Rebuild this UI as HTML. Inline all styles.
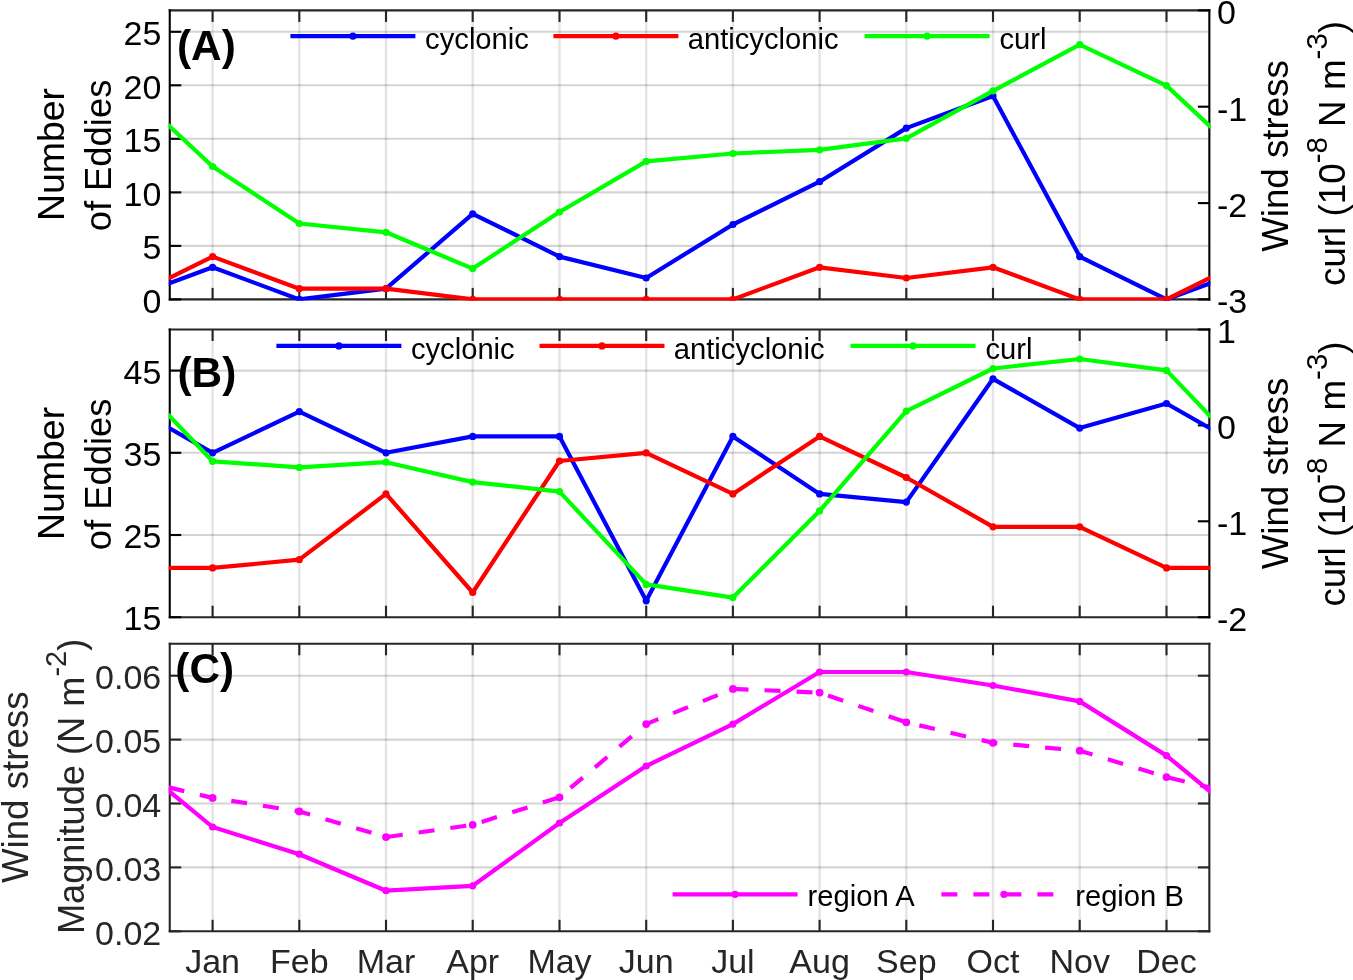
<!DOCTYPE html>
<html><head><meta charset="utf-8"><title>Eddies and wind stress</title>
<style>html,body{margin:0;padding:0;background:#fff;}svg{display:block;will-change:transform;}</style></head>
<body>
<svg width="1353" height="980" viewBox="0 0 1353 980" font-family="'Liberation Sans', sans-serif" fill="#262626">
<rect width="1353" height="980" fill="#fff"/>
<clipPath id="cA"><rect x="168.75" y="9.4" width="1041.6" height="291.0"/></clipPath>
<line x1="212.6" y1="10.4" x2="212.6" y2="299.4" stroke="#262626" stroke-opacity="0.125" stroke-width="2.4"/>
<line x1="299.3" y1="10.4" x2="299.3" y2="299.4" stroke="#262626" stroke-opacity="0.125" stroke-width="2.4"/>
<line x1="386.0" y1="10.4" x2="386.0" y2="299.4" stroke="#262626" stroke-opacity="0.125" stroke-width="2.4"/>
<line x1="472.7" y1="10.4" x2="472.7" y2="299.4" stroke="#262626" stroke-opacity="0.125" stroke-width="2.4"/>
<line x1="559.5" y1="10.4" x2="559.5" y2="299.4" stroke="#262626" stroke-opacity="0.125" stroke-width="2.4"/>
<line x1="646.2" y1="10.4" x2="646.2" y2="299.4" stroke="#262626" stroke-opacity="0.125" stroke-width="2.4"/>
<line x1="732.9" y1="10.4" x2="732.9" y2="299.4" stroke="#262626" stroke-opacity="0.125" stroke-width="2.4"/>
<line x1="819.6" y1="10.4" x2="819.6" y2="299.4" stroke="#262626" stroke-opacity="0.125" stroke-width="2.4"/>
<line x1="906.3" y1="10.4" x2="906.3" y2="299.4" stroke="#262626" stroke-opacity="0.125" stroke-width="2.4"/>
<line x1="993.0" y1="10.4" x2="993.0" y2="299.4" stroke="#262626" stroke-opacity="0.125" stroke-width="2.4"/>
<line x1="1079.7" y1="10.4" x2="1079.7" y2="299.4" stroke="#262626" stroke-opacity="0.125" stroke-width="2.4"/>
<line x1="1166.5" y1="10.4" x2="1166.5" y2="299.4" stroke="#262626" stroke-opacity="0.125" stroke-width="2.4"/>
<line x1="169.75" y1="245.9" x2="1209.35" y2="245.9" stroke="#262626" stroke-opacity="0.2" stroke-width="2.1"/>
<line x1="169.75" y1="192.4" x2="1209.35" y2="192.4" stroke="#262626" stroke-opacity="0.2" stroke-width="2.1"/>
<line x1="169.75" y1="138.8" x2="1209.35" y2="138.8" stroke="#262626" stroke-opacity="0.2" stroke-width="2.1"/>
<line x1="169.75" y1="85.3" x2="1209.35" y2="85.3" stroke="#262626" stroke-opacity="0.2" stroke-width="2.1"/>
<line x1="169.75" y1="31.8" x2="1209.35" y2="31.8" stroke="#262626" stroke-opacity="0.2" stroke-width="2.1"/>
<line x1="168.7" y1="10.4" x2="1210.3999999999999" y2="10.4" stroke="#262626" stroke-width="2.1"/>
<line x1="168.7" y1="299.4" x2="1210.3999999999999" y2="299.4" stroke="#262626" stroke-width="2.1"/>
<line x1="212.6" y1="10.4" x2="212.6" y2="21.9" stroke="#262626" stroke-width="2.1"/>
<line x1="212.6" y1="299.4" x2="212.6" y2="287.9" stroke="#262626" stroke-width="2.1"/>
<line x1="299.3" y1="10.4" x2="299.3" y2="21.9" stroke="#262626" stroke-width="2.1"/>
<line x1="299.3" y1="299.4" x2="299.3" y2="287.9" stroke="#262626" stroke-width="2.1"/>
<line x1="386.0" y1="10.4" x2="386.0" y2="21.9" stroke="#262626" stroke-width="2.1"/>
<line x1="386.0" y1="299.4" x2="386.0" y2="287.9" stroke="#262626" stroke-width="2.1"/>
<line x1="472.7" y1="10.4" x2="472.7" y2="21.9" stroke="#262626" stroke-width="2.1"/>
<line x1="472.7" y1="299.4" x2="472.7" y2="287.9" stroke="#262626" stroke-width="2.1"/>
<line x1="559.5" y1="10.4" x2="559.5" y2="21.9" stroke="#262626" stroke-width="2.1"/>
<line x1="559.5" y1="299.4" x2="559.5" y2="287.9" stroke="#262626" stroke-width="2.1"/>
<line x1="646.2" y1="10.4" x2="646.2" y2="21.9" stroke="#262626" stroke-width="2.1"/>
<line x1="646.2" y1="299.4" x2="646.2" y2="287.9" stroke="#262626" stroke-width="2.1"/>
<line x1="732.9" y1="10.4" x2="732.9" y2="21.9" stroke="#262626" stroke-width="2.1"/>
<line x1="732.9" y1="299.4" x2="732.9" y2="287.9" stroke="#262626" stroke-width="2.1"/>
<line x1="819.6" y1="10.4" x2="819.6" y2="21.9" stroke="#262626" stroke-width="2.1"/>
<line x1="819.6" y1="299.4" x2="819.6" y2="287.9" stroke="#262626" stroke-width="2.1"/>
<line x1="906.3" y1="10.4" x2="906.3" y2="21.9" stroke="#262626" stroke-width="2.1"/>
<line x1="906.3" y1="299.4" x2="906.3" y2="287.9" stroke="#262626" stroke-width="2.1"/>
<line x1="993.0" y1="10.4" x2="993.0" y2="21.9" stroke="#262626" stroke-width="2.1"/>
<line x1="993.0" y1="299.4" x2="993.0" y2="287.9" stroke="#262626" stroke-width="2.1"/>
<line x1="1079.7" y1="10.4" x2="1079.7" y2="21.9" stroke="#262626" stroke-width="2.1"/>
<line x1="1079.7" y1="299.4" x2="1079.7" y2="287.9" stroke="#262626" stroke-width="2.1"/>
<line x1="1166.5" y1="10.4" x2="1166.5" y2="21.9" stroke="#262626" stroke-width="2.1"/>
<line x1="1166.5" y1="299.4" x2="1166.5" y2="287.9" stroke="#262626" stroke-width="2.1"/>
<line x1="169.75" y1="9.35" x2="169.75" y2="300.45" stroke="#000" stroke-width="2.1"/>
<line x1="1209.35" y1="9.35" x2="1209.35" y2="300.45" stroke="#000" stroke-width="2.1"/>
<line x1="169.75" y1="299.4" x2="181.25" y2="299.4" stroke="#000" stroke-width="2.1"/>
<line x1="169.75" y1="245.9" x2="181.25" y2="245.9" stroke="#000" stroke-width="2.1"/>
<line x1="169.75" y1="192.4" x2="181.25" y2="192.4" stroke="#000" stroke-width="2.1"/>
<line x1="169.75" y1="138.8" x2="181.25" y2="138.8" stroke="#000" stroke-width="2.1"/>
<line x1="169.75" y1="85.3" x2="181.25" y2="85.3" stroke="#000" stroke-width="2.1"/>
<line x1="169.75" y1="31.8" x2="181.25" y2="31.8" stroke="#000" stroke-width="2.1"/>
<line x1="1209.35" y1="10.4" x2="1197.85" y2="10.4" stroke="#000" stroke-width="2.1"/>
<line x1="1209.35" y1="106.7" x2="1197.85" y2="106.7" stroke="#000" stroke-width="2.1"/>
<line x1="1209.35" y1="203.1" x2="1197.85" y2="203.1" stroke="#000" stroke-width="2.1"/>
<line x1="1209.35" y1="299.4" x2="1197.85" y2="299.4" stroke="#000" stroke-width="2.1"/>
<g clip-path="url(#cA)">
<polyline points="125.9,299.4 212.6,267.3 299.3,299.4 386.0,288.7 472.7,213.8 559.5,256.6 646.2,278.0 732.9,224.5 819.6,181.7 906.3,128.1 993.0,96.0 1079.7,256.6 1166.5,299.4 1253.2,267.3" fill="none" stroke="#0000ff" stroke-width="4.2" stroke-linejoin="round"/>
<circle cx="212.6" cy="267.3" r="3.6" fill="#0000ff"/>
<circle cx="299.3" cy="299.4" r="3.6" fill="#0000ff"/>
<circle cx="386.0" cy="288.7" r="3.6" fill="#0000ff"/>
<circle cx="472.7" cy="213.8" r="3.6" fill="#0000ff"/>
<circle cx="559.5" cy="256.6" r="3.6" fill="#0000ff"/>
<circle cx="646.2" cy="278.0" r="3.6" fill="#0000ff"/>
<circle cx="732.9" cy="224.5" r="3.6" fill="#0000ff"/>
<circle cx="819.6" cy="181.7" r="3.6" fill="#0000ff"/>
<circle cx="906.3" cy="128.1" r="3.6" fill="#0000ff"/>
<circle cx="993.0" cy="96.0" r="3.6" fill="#0000ff"/>
<circle cx="1079.7" cy="256.6" r="3.6" fill="#0000ff"/>
<circle cx="1166.5" cy="299.4" r="3.6" fill="#0000ff"/>
<polyline points="125.9,299.4 212.6,256.6 299.3,288.7 386.0,288.7 472.7,299.4 559.5,299.4 646.2,299.4 732.9,299.4 819.6,267.3 906.3,278.0 993.0,267.3 1079.7,299.4 1166.5,299.4 1253.2,256.6" fill="none" stroke="#ff0000" stroke-width="4.2" stroke-linejoin="round"/>
<circle cx="212.6" cy="256.6" r="3.6" fill="#ff0000"/>
<circle cx="299.3" cy="288.7" r="3.6" fill="#ff0000"/>
<circle cx="386.0" cy="288.7" r="3.6" fill="#ff0000"/>
<circle cx="472.7" cy="299.4" r="3.6" fill="#ff0000"/>
<circle cx="559.5" cy="299.4" r="3.6" fill="#ff0000"/>
<circle cx="646.2" cy="299.4" r="3.6" fill="#ff0000"/>
<circle cx="732.9" cy="299.4" r="3.6" fill="#ff0000"/>
<circle cx="819.6" cy="267.3" r="3.6" fill="#ff0000"/>
<circle cx="906.3" cy="278.0" r="3.6" fill="#ff0000"/>
<circle cx="993.0" cy="267.3" r="3.6" fill="#ff0000"/>
<circle cx="1079.7" cy="299.4" r="3.6" fill="#ff0000"/>
<circle cx="1166.5" cy="299.4" r="3.6" fill="#ff0000"/>
<polyline points="125.9,85.6 212.6,166.5 299.3,223.5 386.0,232.3 472.7,268.6 559.5,212.0 646.2,161.4 732.9,153.5 819.6,149.8 906.3,138.3 993.0,90.8 1079.7,44.7 1166.5,85.6 1253.2,166.5" fill="none" stroke="#00ff00" stroke-width="4.2" stroke-linejoin="round"/>
<circle cx="212.6" cy="166.5" r="3.6" fill="#00ff00"/>
<circle cx="299.3" cy="223.5" r="3.6" fill="#00ff00"/>
<circle cx="386.0" cy="232.3" r="3.6" fill="#00ff00"/>
<circle cx="472.7" cy="268.6" r="3.6" fill="#00ff00"/>
<circle cx="559.5" cy="212.0" r="3.6" fill="#00ff00"/>
<circle cx="646.2" cy="161.4" r="3.6" fill="#00ff00"/>
<circle cx="732.9" cy="153.5" r="3.6" fill="#00ff00"/>
<circle cx="819.6" cy="149.8" r="3.6" fill="#00ff00"/>
<circle cx="906.3" cy="138.3" r="3.6" fill="#00ff00"/>
<circle cx="993.0" cy="90.8" r="3.6" fill="#00ff00"/>
<circle cx="1079.7" cy="44.7" r="3.6" fill="#00ff00"/>
<circle cx="1166.5" cy="85.6" r="3.6" fill="#00ff00"/>
</g>
<line x1="290.4" y1="36.2" x2="415.4" y2="36.2" stroke="#0000ff" stroke-width="4.2"/>
<circle cx="352.9" cy="36.2" r="3.6" fill="#0000ff"/>
<text x="425.1" y="49.1" font-size="29.2" text-anchor="start" font-weight="normal" fill="#000">cyclonic</text>
<line x1="553.4" y1="36.2" x2="678.4" y2="36.2" stroke="#ff0000" stroke-width="4.2"/>
<circle cx="615.9" cy="36.2" r="3.6" fill="#ff0000"/>
<text x="687.7" y="49.1" font-size="29.2" text-anchor="start" font-weight="normal" fill="#000">anticyclonic</text>
<line x1="864.6" y1="36.2" x2="989.6" y2="36.2" stroke="#00ff00" stroke-width="4.2"/>
<circle cx="927.1" cy="36.2" r="3.6" fill="#00ff00"/>
<text x="999.5" y="49.1" font-size="29.2" text-anchor="start" font-weight="normal" fill="#000">curl</text>
<text x="161.3" y="312.6" font-size="34.0" text-anchor="end" font-weight="normal" fill="#000">0</text>
<text x="161.3" y="259.1" font-size="34.0" text-anchor="end" font-weight="normal" fill="#000">5</text>
<text x="161.3" y="205.6" font-size="34.0" text-anchor="end" font-weight="normal" fill="#000">10</text>
<text x="161.3" y="152.0" font-size="34.0" text-anchor="end" font-weight="normal" fill="#000">15</text>
<text x="161.3" y="98.5" font-size="34.0" text-anchor="end" font-weight="normal" fill="#000">20</text>
<text x="161.3" y="45.0" font-size="34.0" text-anchor="end" font-weight="normal" fill="#000">25</text>
<text x="1217.0" y="24.3" font-size="34.0" text-anchor="start" font-weight="normal" fill="#000">0</text>
<text x="1217.0" y="120.6" font-size="34.0" text-anchor="start" font-weight="normal" fill="#000">-1</text>
<text x="1217.0" y="217.0" font-size="34.0" text-anchor="start" font-weight="normal" fill="#000">-2</text>
<text x="1217.0" y="313.3" font-size="34.0" text-anchor="start" font-weight="normal" fill="#000">-3</text>
<text x="177.0" y="60.0" font-size="42.3" text-anchor="start" font-weight="bold" fill="#000">(A)</text>
<text transform="translate(64.3,154.5) rotate(-90)" font-size="37.4" text-anchor="middle" fill="#000">Number</text>
<text transform="translate(110.6,155.5) rotate(-90)" font-size="36.4" text-anchor="middle" fill="#000">of Eddies</text>
<text transform="translate(1287.8,156.0) rotate(-90)" font-size="36.7" text-anchor="middle" fill="#000">Wind stress</text>
<text transform="translate(1345.0,153.5) rotate(-90)" font-size="36.8" text-anchor="middle" fill="#000">curl (10<tspan font-size="29.5" dy="-18">-8</tspan><tspan dy="18"> N m</tspan><tspan font-size="29.5" dy="-18">-3</tspan><tspan dy="18">)</tspan></text>
<clipPath id="cB"><rect x="168.75" y="328.5" width="1041.6" height="289.70000000000005"/></clipPath>
<line x1="212.6" y1="329.5" x2="212.6" y2="617.2" stroke="#262626" stroke-opacity="0.125" stroke-width="2.4"/>
<line x1="299.3" y1="329.5" x2="299.3" y2="617.2" stroke="#262626" stroke-opacity="0.125" stroke-width="2.4"/>
<line x1="386.0" y1="329.5" x2="386.0" y2="617.2" stroke="#262626" stroke-opacity="0.125" stroke-width="2.4"/>
<line x1="472.7" y1="329.5" x2="472.7" y2="617.2" stroke="#262626" stroke-opacity="0.125" stroke-width="2.4"/>
<line x1="559.5" y1="329.5" x2="559.5" y2="617.2" stroke="#262626" stroke-opacity="0.125" stroke-width="2.4"/>
<line x1="646.2" y1="329.5" x2="646.2" y2="617.2" stroke="#262626" stroke-opacity="0.125" stroke-width="2.4"/>
<line x1="732.9" y1="329.5" x2="732.9" y2="617.2" stroke="#262626" stroke-opacity="0.125" stroke-width="2.4"/>
<line x1="819.6" y1="329.5" x2="819.6" y2="617.2" stroke="#262626" stroke-opacity="0.125" stroke-width="2.4"/>
<line x1="906.3" y1="329.5" x2="906.3" y2="617.2" stroke="#262626" stroke-opacity="0.125" stroke-width="2.4"/>
<line x1="993.0" y1="329.5" x2="993.0" y2="617.2" stroke="#262626" stroke-opacity="0.125" stroke-width="2.4"/>
<line x1="1079.7" y1="329.5" x2="1079.7" y2="617.2" stroke="#262626" stroke-opacity="0.125" stroke-width="2.4"/>
<line x1="1166.5" y1="329.5" x2="1166.5" y2="617.2" stroke="#262626" stroke-opacity="0.125" stroke-width="2.4"/>
<line x1="169.75" y1="535.0" x2="1209.35" y2="535.0" stroke="#262626" stroke-opacity="0.2" stroke-width="2.1"/>
<line x1="169.75" y1="452.8" x2="1209.35" y2="452.8" stroke="#262626" stroke-opacity="0.2" stroke-width="2.1"/>
<line x1="169.75" y1="370.6" x2="1209.35" y2="370.6" stroke="#262626" stroke-opacity="0.2" stroke-width="2.1"/>
<line x1="168.7" y1="329.5" x2="1210.3999999999999" y2="329.5" stroke="#262626" stroke-width="2.1"/>
<line x1="168.7" y1="617.2" x2="1210.3999999999999" y2="617.2" stroke="#262626" stroke-width="2.1"/>
<line x1="212.6" y1="329.5" x2="212.6" y2="341.0" stroke="#262626" stroke-width="2.1"/>
<line x1="212.6" y1="617.2" x2="212.6" y2="605.7" stroke="#262626" stroke-width="2.1"/>
<line x1="299.3" y1="329.5" x2="299.3" y2="341.0" stroke="#262626" stroke-width="2.1"/>
<line x1="299.3" y1="617.2" x2="299.3" y2="605.7" stroke="#262626" stroke-width="2.1"/>
<line x1="386.0" y1="329.5" x2="386.0" y2="341.0" stroke="#262626" stroke-width="2.1"/>
<line x1="386.0" y1="617.2" x2="386.0" y2="605.7" stroke="#262626" stroke-width="2.1"/>
<line x1="472.7" y1="329.5" x2="472.7" y2="341.0" stroke="#262626" stroke-width="2.1"/>
<line x1="472.7" y1="617.2" x2="472.7" y2="605.7" stroke="#262626" stroke-width="2.1"/>
<line x1="559.5" y1="329.5" x2="559.5" y2="341.0" stroke="#262626" stroke-width="2.1"/>
<line x1="559.5" y1="617.2" x2="559.5" y2="605.7" stroke="#262626" stroke-width="2.1"/>
<line x1="646.2" y1="329.5" x2="646.2" y2="341.0" stroke="#262626" stroke-width="2.1"/>
<line x1="646.2" y1="617.2" x2="646.2" y2="605.7" stroke="#262626" stroke-width="2.1"/>
<line x1="732.9" y1="329.5" x2="732.9" y2="341.0" stroke="#262626" stroke-width="2.1"/>
<line x1="732.9" y1="617.2" x2="732.9" y2="605.7" stroke="#262626" stroke-width="2.1"/>
<line x1="819.6" y1="329.5" x2="819.6" y2="341.0" stroke="#262626" stroke-width="2.1"/>
<line x1="819.6" y1="617.2" x2="819.6" y2="605.7" stroke="#262626" stroke-width="2.1"/>
<line x1="906.3" y1="329.5" x2="906.3" y2="341.0" stroke="#262626" stroke-width="2.1"/>
<line x1="906.3" y1="617.2" x2="906.3" y2="605.7" stroke="#262626" stroke-width="2.1"/>
<line x1="993.0" y1="329.5" x2="993.0" y2="341.0" stroke="#262626" stroke-width="2.1"/>
<line x1="993.0" y1="617.2" x2="993.0" y2="605.7" stroke="#262626" stroke-width="2.1"/>
<line x1="1079.7" y1="329.5" x2="1079.7" y2="341.0" stroke="#262626" stroke-width="2.1"/>
<line x1="1079.7" y1="617.2" x2="1079.7" y2="605.7" stroke="#262626" stroke-width="2.1"/>
<line x1="1166.5" y1="329.5" x2="1166.5" y2="341.0" stroke="#262626" stroke-width="2.1"/>
<line x1="1166.5" y1="617.2" x2="1166.5" y2="605.7" stroke="#262626" stroke-width="2.1"/>
<line x1="169.75" y1="328.45" x2="169.75" y2="618.25" stroke="#000" stroke-width="2.1"/>
<line x1="1209.35" y1="328.45" x2="1209.35" y2="618.25" stroke="#000" stroke-width="2.1"/>
<line x1="169.75" y1="617.2" x2="181.25" y2="617.2" stroke="#000" stroke-width="2.1"/>
<line x1="169.75" y1="535.0" x2="181.25" y2="535.0" stroke="#000" stroke-width="2.1"/>
<line x1="169.75" y1="452.8" x2="181.25" y2="452.8" stroke="#000" stroke-width="2.1"/>
<line x1="169.75" y1="370.6" x2="181.25" y2="370.6" stroke="#000" stroke-width="2.1"/>
<line x1="1209.35" y1="329.5" x2="1197.85" y2="329.5" stroke="#000" stroke-width="2.1"/>
<line x1="1209.35" y1="425.4" x2="1197.85" y2="425.4" stroke="#000" stroke-width="2.1"/>
<line x1="1209.35" y1="521.3" x2="1197.85" y2="521.3" stroke="#000" stroke-width="2.1"/>
<line x1="1209.35" y1="617.2" x2="1197.85" y2="617.2" stroke="#000" stroke-width="2.1"/>
<g clip-path="url(#cB)">
<polyline points="125.9,403.5 212.6,452.8 299.3,411.7 386.0,452.8 472.7,436.4 559.5,436.4 646.2,600.8 732.9,436.4 819.6,493.9 906.3,502.1 993.0,378.8 1079.7,428.1 1166.5,403.5 1253.2,452.8" fill="none" stroke="#0000ff" stroke-width="4.2" stroke-linejoin="round"/>
<circle cx="212.6" cy="452.8" r="3.6" fill="#0000ff"/>
<circle cx="299.3" cy="411.7" r="3.6" fill="#0000ff"/>
<circle cx="386.0" cy="452.8" r="3.6" fill="#0000ff"/>
<circle cx="472.7" cy="436.4" r="3.6" fill="#0000ff"/>
<circle cx="559.5" cy="436.4" r="3.6" fill="#0000ff"/>
<circle cx="646.2" cy="600.8" r="3.6" fill="#0000ff"/>
<circle cx="732.9" cy="436.4" r="3.6" fill="#0000ff"/>
<circle cx="819.6" cy="493.9" r="3.6" fill="#0000ff"/>
<circle cx="906.3" cy="502.1" r="3.6" fill="#0000ff"/>
<circle cx="993.0" cy="378.8" r="3.6" fill="#0000ff"/>
<circle cx="1079.7" cy="428.1" r="3.6" fill="#0000ff"/>
<circle cx="1166.5" cy="403.5" r="3.6" fill="#0000ff"/>
<polyline points="125.9,567.9 212.6,567.9 299.3,559.7 386.0,493.9 472.7,592.5 559.5,461.0 646.2,452.8 732.9,493.9 819.6,436.4 906.3,477.5 993.0,526.8 1079.7,526.8 1166.5,567.9 1253.2,567.9" fill="none" stroke="#ff0000" stroke-width="4.2" stroke-linejoin="round"/>
<circle cx="212.6" cy="567.9" r="3.6" fill="#ff0000"/>
<circle cx="299.3" cy="559.7" r="3.6" fill="#ff0000"/>
<circle cx="386.0" cy="493.9" r="3.6" fill="#ff0000"/>
<circle cx="472.7" cy="592.5" r="3.6" fill="#ff0000"/>
<circle cx="559.5" cy="461.0" r="3.6" fill="#ff0000"/>
<circle cx="646.2" cy="452.8" r="3.6" fill="#ff0000"/>
<circle cx="732.9" cy="493.9" r="3.6" fill="#ff0000"/>
<circle cx="819.6" cy="436.4" r="3.6" fill="#ff0000"/>
<circle cx="906.3" cy="477.5" r="3.6" fill="#ff0000"/>
<circle cx="993.0" cy="526.8" r="3.6" fill="#ff0000"/>
<circle cx="1079.7" cy="526.8" r="3.6" fill="#ff0000"/>
<circle cx="1166.5" cy="567.9" r="3.6" fill="#ff0000"/>
<polyline points="125.9,370.4 212.6,461.3 299.3,467.4 386.0,462.2 472.7,482.1 559.5,491.6 646.2,584.4 732.9,597.6 819.6,510.9 906.3,411.1 993.0,368.5 1079.7,359.0 1166.5,370.4 1253.2,461.3" fill="none" stroke="#00ff00" stroke-width="4.2" stroke-linejoin="round"/>
<circle cx="212.6" cy="461.3" r="3.6" fill="#00ff00"/>
<circle cx="299.3" cy="467.4" r="3.6" fill="#00ff00"/>
<circle cx="386.0" cy="462.2" r="3.6" fill="#00ff00"/>
<circle cx="472.7" cy="482.1" r="3.6" fill="#00ff00"/>
<circle cx="559.5" cy="491.6" r="3.6" fill="#00ff00"/>
<circle cx="646.2" cy="584.4" r="3.6" fill="#00ff00"/>
<circle cx="732.9" cy="597.6" r="3.6" fill="#00ff00"/>
<circle cx="819.6" cy="510.9" r="3.6" fill="#00ff00"/>
<circle cx="906.3" cy="411.1" r="3.6" fill="#00ff00"/>
<circle cx="993.0" cy="368.5" r="3.6" fill="#00ff00"/>
<circle cx="1079.7" cy="359.0" r="3.6" fill="#00ff00"/>
<circle cx="1166.5" cy="370.4" r="3.6" fill="#00ff00"/>
</g>
<line x1="276.4" y1="345.9" x2="401.4" y2="345.9" stroke="#0000ff" stroke-width="4.2"/>
<circle cx="338.9" cy="345.9" r="3.6" fill="#0000ff"/>
<text x="410.9" y="358.8" font-size="29.2" text-anchor="start" font-weight="normal" fill="#000">cyclonic</text>
<line x1="539.5" y1="345.9" x2="664.5" y2="345.9" stroke="#ff0000" stroke-width="4.2"/>
<circle cx="602.0" cy="345.9" r="3.6" fill="#ff0000"/>
<text x="673.8" y="358.8" font-size="29.2" text-anchor="start" font-weight="normal" fill="#000">anticyclonic</text>
<line x1="850.5" y1="345.9" x2="975.5" y2="345.9" stroke="#00ff00" stroke-width="4.2"/>
<circle cx="913.0" cy="345.9" r="3.6" fill="#00ff00"/>
<text x="985.4" y="358.8" font-size="29.2" text-anchor="start" font-weight="normal" fill="#000">curl</text>
<text x="161.3" y="630.4" font-size="34.0" text-anchor="end" font-weight="normal" fill="#000">15</text>
<text x="161.3" y="548.2" font-size="34.0" text-anchor="end" font-weight="normal" fill="#000">25</text>
<text x="161.3" y="466.0" font-size="34.0" text-anchor="end" font-weight="normal" fill="#000">35</text>
<text x="161.3" y="383.8" font-size="34.0" text-anchor="end" font-weight="normal" fill="#000">45</text>
<text x="1217.0" y="343.4" font-size="34.0" text-anchor="start" font-weight="normal" fill="#000">1</text>
<text x="1217.0" y="439.3" font-size="34.0" text-anchor="start" font-weight="normal" fill="#000">0</text>
<text x="1217.0" y="535.2" font-size="34.0" text-anchor="start" font-weight="normal" fill="#000">-1</text>
<text x="1217.0" y="631.1" font-size="34.0" text-anchor="start" font-weight="normal" fill="#000">-2</text>
<text x="177.5" y="387.0" font-size="42.3" text-anchor="start" font-weight="bold" fill="#000">(B)</text>
<text transform="translate(64.3,473.4) rotate(-90)" font-size="37.4" text-anchor="middle" fill="#000">Number</text>
<text transform="translate(110.6,474.4) rotate(-90)" font-size="36.4" text-anchor="middle" fill="#000">of Eddies</text>
<text transform="translate(1287.8,473.5) rotate(-90)" font-size="36.7" text-anchor="middle" fill="#000">Wind stress</text>
<text transform="translate(1345.0,474.0) rotate(-90)" font-size="36.8" text-anchor="middle" fill="#000">curl (10<tspan font-size="29.5" dy="-18">-8</tspan><tspan dy="18"> N m</tspan><tspan font-size="29.5" dy="-18">-3</tspan><tspan dy="18">)</tspan></text>
<clipPath id="cC"><rect x="168.75" y="642.8" width="1041.6" height="289.5"/></clipPath>
<line x1="212.6" y1="643.8" x2="212.6" y2="931.3" stroke="#262626" stroke-opacity="0.125" stroke-width="2.4"/>
<line x1="299.3" y1="643.8" x2="299.3" y2="931.3" stroke="#262626" stroke-opacity="0.125" stroke-width="2.4"/>
<line x1="386.0" y1="643.8" x2="386.0" y2="931.3" stroke="#262626" stroke-opacity="0.125" stroke-width="2.4"/>
<line x1="472.7" y1="643.8" x2="472.7" y2="931.3" stroke="#262626" stroke-opacity="0.125" stroke-width="2.4"/>
<line x1="559.5" y1="643.8" x2="559.5" y2="931.3" stroke="#262626" stroke-opacity="0.125" stroke-width="2.4"/>
<line x1="646.2" y1="643.8" x2="646.2" y2="931.3" stroke="#262626" stroke-opacity="0.125" stroke-width="2.4"/>
<line x1="732.9" y1="643.8" x2="732.9" y2="931.3" stroke="#262626" stroke-opacity="0.125" stroke-width="2.4"/>
<line x1="819.6" y1="643.8" x2="819.6" y2="931.3" stroke="#262626" stroke-opacity="0.125" stroke-width="2.4"/>
<line x1="906.3" y1="643.8" x2="906.3" y2="931.3" stroke="#262626" stroke-opacity="0.125" stroke-width="2.4"/>
<line x1="993.0" y1="643.8" x2="993.0" y2="931.3" stroke="#262626" stroke-opacity="0.125" stroke-width="2.4"/>
<line x1="1079.7" y1="643.8" x2="1079.7" y2="931.3" stroke="#262626" stroke-opacity="0.125" stroke-width="2.4"/>
<line x1="1166.5" y1="643.8" x2="1166.5" y2="931.3" stroke="#262626" stroke-opacity="0.125" stroke-width="2.4"/>
<line x1="169.75" y1="867.4" x2="1209.35" y2="867.4" stroke="#262626" stroke-opacity="0.2" stroke-width="2.1"/>
<line x1="169.75" y1="803.5" x2="1209.35" y2="803.5" stroke="#262626" stroke-opacity="0.2" stroke-width="2.1"/>
<line x1="169.75" y1="739.6" x2="1209.35" y2="739.6" stroke="#262626" stroke-opacity="0.2" stroke-width="2.1"/>
<line x1="169.75" y1="675.7" x2="1209.35" y2="675.7" stroke="#262626" stroke-opacity="0.2" stroke-width="2.1"/>
<line x1="168.7" y1="643.8" x2="1210.3999999999999" y2="643.8" stroke="#262626" stroke-width="2.1"/>
<line x1="168.7" y1="931.3" x2="1210.3999999999999" y2="931.3" stroke="#262626" stroke-width="2.1"/>
<line x1="212.6" y1="643.8" x2="212.6" y2="655.3" stroke="#262626" stroke-width="2.1"/>
<line x1="212.6" y1="931.3" x2="212.6" y2="919.8" stroke="#262626" stroke-width="2.1"/>
<line x1="299.3" y1="643.8" x2="299.3" y2="655.3" stroke="#262626" stroke-width="2.1"/>
<line x1="299.3" y1="931.3" x2="299.3" y2="919.8" stroke="#262626" stroke-width="2.1"/>
<line x1="386.0" y1="643.8" x2="386.0" y2="655.3" stroke="#262626" stroke-width="2.1"/>
<line x1="386.0" y1="931.3" x2="386.0" y2="919.8" stroke="#262626" stroke-width="2.1"/>
<line x1="472.7" y1="643.8" x2="472.7" y2="655.3" stroke="#262626" stroke-width="2.1"/>
<line x1="472.7" y1="931.3" x2="472.7" y2="919.8" stroke="#262626" stroke-width="2.1"/>
<line x1="559.5" y1="643.8" x2="559.5" y2="655.3" stroke="#262626" stroke-width="2.1"/>
<line x1="559.5" y1="931.3" x2="559.5" y2="919.8" stroke="#262626" stroke-width="2.1"/>
<line x1="646.2" y1="643.8" x2="646.2" y2="655.3" stroke="#262626" stroke-width="2.1"/>
<line x1="646.2" y1="931.3" x2="646.2" y2="919.8" stroke="#262626" stroke-width="2.1"/>
<line x1="732.9" y1="643.8" x2="732.9" y2="655.3" stroke="#262626" stroke-width="2.1"/>
<line x1="732.9" y1="931.3" x2="732.9" y2="919.8" stroke="#262626" stroke-width="2.1"/>
<line x1="819.6" y1="643.8" x2="819.6" y2="655.3" stroke="#262626" stroke-width="2.1"/>
<line x1="819.6" y1="931.3" x2="819.6" y2="919.8" stroke="#262626" stroke-width="2.1"/>
<line x1="906.3" y1="643.8" x2="906.3" y2="655.3" stroke="#262626" stroke-width="2.1"/>
<line x1="906.3" y1="931.3" x2="906.3" y2="919.8" stroke="#262626" stroke-width="2.1"/>
<line x1="993.0" y1="643.8" x2="993.0" y2="655.3" stroke="#262626" stroke-width="2.1"/>
<line x1="993.0" y1="931.3" x2="993.0" y2="919.8" stroke="#262626" stroke-width="2.1"/>
<line x1="1079.7" y1="643.8" x2="1079.7" y2="655.3" stroke="#262626" stroke-width="2.1"/>
<line x1="1079.7" y1="931.3" x2="1079.7" y2="919.8" stroke="#262626" stroke-width="2.1"/>
<line x1="1166.5" y1="643.8" x2="1166.5" y2="655.3" stroke="#262626" stroke-width="2.1"/>
<line x1="1166.5" y1="931.3" x2="1166.5" y2="919.8" stroke="#262626" stroke-width="2.1"/>
<line x1="169.75" y1="642.75" x2="169.75" y2="932.3499999999999" stroke="#262626" stroke-width="2.1"/>
<line x1="1209.35" y1="642.75" x2="1209.35" y2="932.3499999999999" stroke="#262626" stroke-width="2.1"/>
<line x1="169.75" y1="931.3" x2="181.25" y2="931.3" stroke="#262626" stroke-width="2.1"/>
<line x1="169.75" y1="867.4" x2="181.25" y2="867.4" stroke="#262626" stroke-width="2.1"/>
<line x1="169.75" y1="803.5" x2="181.25" y2="803.5" stroke="#262626" stroke-width="2.1"/>
<line x1="169.75" y1="739.6" x2="181.25" y2="739.6" stroke="#262626" stroke-width="2.1"/>
<line x1="169.75" y1="675.7" x2="181.25" y2="675.7" stroke="#262626" stroke-width="2.1"/>
<line x1="1209.35" y1="931.3" x2="1197.85" y2="931.3" stroke="#262626" stroke-width="2.1"/>
<line x1="1209.35" y1="867.4" x2="1197.85" y2="867.4" stroke="#262626" stroke-width="2.1"/>
<line x1="1209.35" y1="803.5" x2="1197.85" y2="803.5" stroke="#262626" stroke-width="2.1"/>
<line x1="1209.35" y1="739.6" x2="1197.85" y2="739.6" stroke="#262626" stroke-width="2.1"/>
<line x1="1209.35" y1="675.7" x2="1197.85" y2="675.7" stroke="#262626" stroke-width="2.1"/>
<g clip-path="url(#cC)">
<polyline points="125.9,755.6 212.6,827.0 299.3,854.2 386.0,890.7 472.7,885.8 559.5,823.0 646.2,766.0 732.9,724.1 819.6,672.0 906.3,672.0 993.0,685.5 1079.7,701.4 1166.5,755.6 1253.2,827.0" fill="none" stroke="#ff00ff" stroke-width="4.2" stroke-linejoin="round"/>
<circle cx="212.6" cy="827.0" r="3.6" fill="#ff00ff"/>
<circle cx="299.3" cy="854.2" r="3.6" fill="#ff00ff"/>
<circle cx="386.0" cy="890.7" r="3.6" fill="#ff00ff"/>
<circle cx="472.7" cy="885.8" r="3.6" fill="#ff00ff"/>
<circle cx="559.5" cy="823.0" r="3.6" fill="#ff00ff"/>
<circle cx="646.2" cy="766.0" r="3.6" fill="#ff00ff"/>
<circle cx="732.9" cy="724.1" r="3.6" fill="#ff00ff"/>
<circle cx="819.6" cy="672.0" r="3.6" fill="#ff00ff"/>
<circle cx="906.3" cy="672.0" r="3.6" fill="#ff00ff"/>
<circle cx="993.0" cy="685.5" r="3.6" fill="#ff00ff"/>
<circle cx="1079.7" cy="701.4" r="3.6" fill="#ff00ff"/>
<circle cx="1166.5" cy="755.6" r="3.6" fill="#ff00ff"/>
<polyline points="125.9,777.1 212.6,797.9 299.3,811.4 386.0,837.1 472.7,824.8 559.5,797.3 646.2,724.1 732.9,688.9 819.6,692.6 906.3,722.3 993.0,742.8 1079.7,750.7 1166.5,777.1 1253.2,797.9" fill="none" stroke="#ff00ff" stroke-width="4.2" stroke-linejoin="round" stroke-dasharray="16 16.03" stroke-dashoffset="-12.0"/>
<circle cx="212.6" cy="797.9" r="3.9" fill="#ff00ff"/>
<circle cx="299.3" cy="811.4" r="3.9" fill="#ff00ff"/>
<circle cx="386.0" cy="837.1" r="3.9" fill="#ff00ff"/>
<circle cx="472.7" cy="824.8" r="3.9" fill="#ff00ff"/>
<circle cx="559.5" cy="797.3" r="3.9" fill="#ff00ff"/>
<circle cx="646.2" cy="724.1" r="3.9" fill="#ff00ff"/>
<circle cx="732.9" cy="688.9" r="3.9" fill="#ff00ff"/>
<circle cx="819.6" cy="692.6" r="3.9" fill="#ff00ff"/>
<circle cx="906.3" cy="722.3" r="3.9" fill="#ff00ff"/>
<circle cx="993.0" cy="742.8" r="3.9" fill="#ff00ff"/>
<circle cx="1079.7" cy="750.7" r="3.9" fill="#ff00ff"/>
<circle cx="1166.5" cy="777.1" r="3.9" fill="#ff00ff"/>
</g>
<line x1="672.6" y1="894.3" x2="797.6" y2="894.3" stroke="#ff00ff" stroke-width="4.2"/>
<circle cx="735.1" cy="894.3" r="3.6" fill="#ff00ff"/>
<text x="807.6" y="906.2" font-size="29.2" text-anchor="start" font-weight="normal" fill="#000">region A</text>
<line x1="941.4" y1="894.3" x2="1066.4" y2="894.3" stroke="#ff00ff" stroke-width="4.2" stroke-dasharray="16 16"/>
<circle cx="1003.9" cy="894.3" r="3.6" fill="#ff00ff"/>
<text x="1075.2" y="906.2" font-size="29.2" text-anchor="start" font-weight="normal" fill="#000">region B</text>
<text x="161.3" y="944.5" font-size="34.0" text-anchor="end" font-weight="normal" >0.02</text>
<text x="161.3" y="880.6" font-size="34.0" text-anchor="end" font-weight="normal" >0.03</text>
<text x="161.3" y="816.7" font-size="34.0" text-anchor="end" font-weight="normal" >0.04</text>
<text x="161.3" y="752.8" font-size="34.0" text-anchor="end" font-weight="normal" >0.05</text>
<text x="161.3" y="688.9" font-size="34.0" text-anchor="end" font-weight="normal" >0.06</text>
<text x="212.6" y="972.8" font-size="34.0" text-anchor="middle" font-weight="normal" >Jan</text>
<text x="299.3" y="972.8" font-size="34.0" text-anchor="middle" font-weight="normal" >Feb</text>
<text x="386.0" y="972.8" font-size="34.0" text-anchor="middle" font-weight="normal" >Mar</text>
<text x="472.7" y="972.8" font-size="34.0" text-anchor="middle" font-weight="normal" >Apr</text>
<text x="559.5" y="972.8" font-size="34.0" text-anchor="middle" font-weight="normal" >May</text>
<text x="646.2" y="972.8" font-size="34.0" text-anchor="middle" font-weight="normal" >Jun</text>
<text x="732.9" y="972.8" font-size="34.0" text-anchor="middle" font-weight="normal" >Jul</text>
<text x="819.6" y="972.8" font-size="34.0" text-anchor="middle" font-weight="normal" >Aug</text>
<text x="906.3" y="972.8" font-size="34.0" text-anchor="middle" font-weight="normal" >Sep</text>
<text x="993.0" y="972.8" font-size="34.0" text-anchor="middle" font-weight="normal" >Oct</text>
<text x="1079.7" y="972.8" font-size="34.0" text-anchor="middle" font-weight="normal" >Nov</text>
<text x="1166.5" y="972.8" font-size="34.0" text-anchor="middle" font-weight="normal" >Dec</text>
<text x="175.3" y="683.3" font-size="42.3" text-anchor="start" font-weight="bold" fill="#000">(C)</text>
<text transform="translate(28.4,787.3) rotate(-90)" font-size="36.7" text-anchor="middle" >Wind stress</text>
<text transform="translate(83.9,786.4) rotate(-90)" font-size="36.2" text-anchor="middle" >Magnitude (N m<tspan font-size="29" dy="-18">-2</tspan><tspan dy="18">)</tspan></text>
</svg>
</body></html>
